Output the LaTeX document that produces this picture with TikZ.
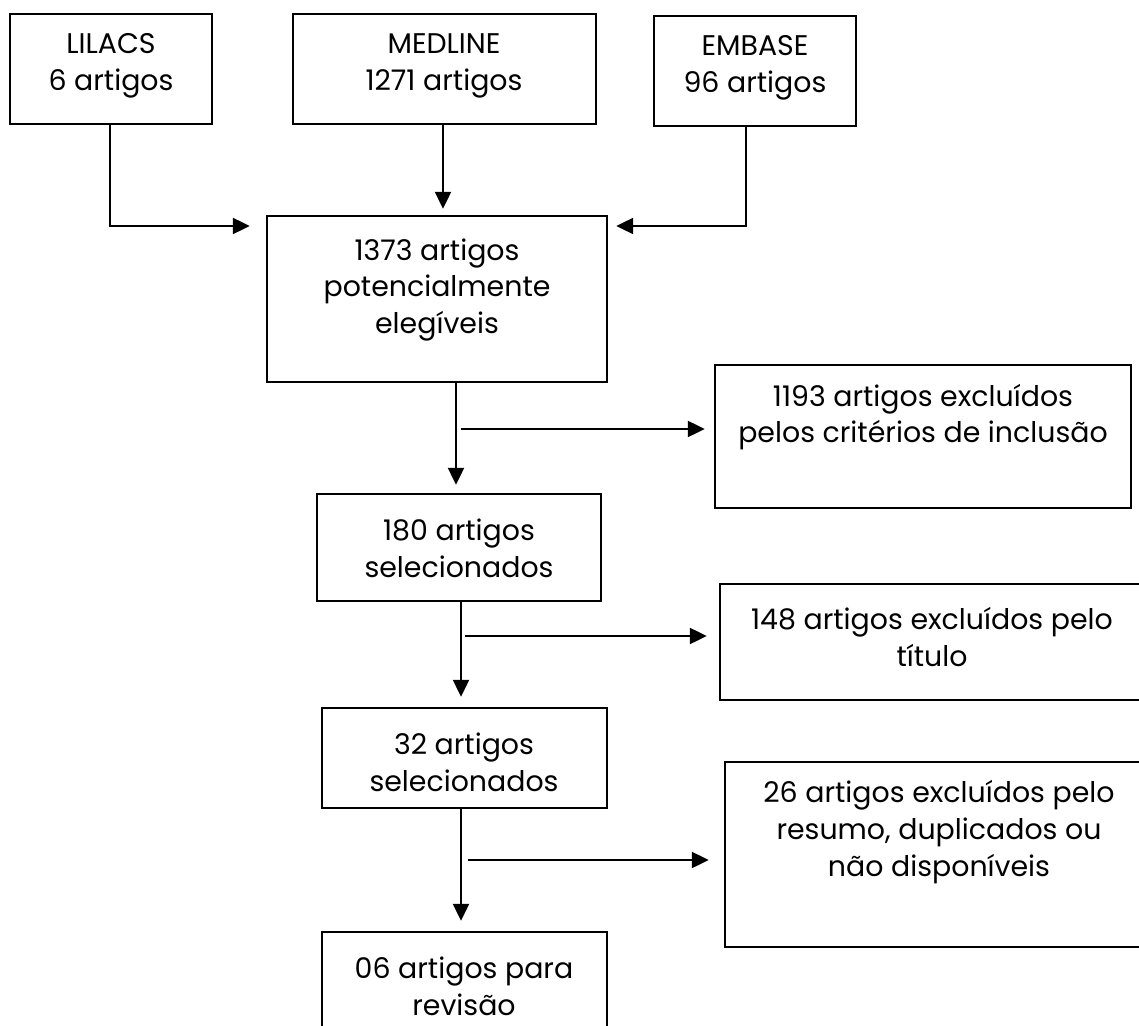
\documentclass[tikz,border=0pt]{standalone}
\usepackage{fontspec}
\setmainfont{Poppins}
\usetikzlibrary{arrows.meta,fit}
\begin{document}
\begin{tikzpicture}[x=0.5pt,y=-0.5pt,
  box/.style={draw,line width=1.2pt,inner sep=0pt},
  txt/.style={align=center,inner sep=0pt,font=\fontsize{14.2}{18.4}\selectfont},
  arr/.style={line width=1.1pt,-{Triangle[length=8.5pt,width=8pt]}}]
\clip (0,0) rectangle (1139,1026);
\fill[white] (0,0) rectangle (1139,1026);
% boxes
\node[box,fit={(10,14)(212,124)}] (lil) {};
\node[box,fit={(293,14)(596,124)}] (med) {};
\node[box,fit={(654,16)(856,126)}] (emb) {};
\node[box,fit={(267,216)(607,382)}] (main) {};
\node[box,fit={(715,365)(1131,508)}] (exc1) {};
\node[box,fit={(317,494)(601,601)}] (sel1) {};
\node[box,fit={(720,584)(1150,700)}] (exc2) {};
\node[box,fit={(322,708)(607,808)}] (sel2) {};
\node[box,fit={(725,762)(1155,947)}] (exc3) {};
\node[box,fit={(322,932)(607,1060)}] (fin) {};
% texts
\node[txt] (tlil) at (111,66) {LILACS\\6 artigos};
\node[txt] (tmed) at (444,66) {MEDLINE\\1271 artigos};
\node[txt] (temb) at (755,68) {EMBASE\\96 artigos};
\node[txt] (tmain) at (437,290) {1373 artigos\\potencialmente\\elegíveis};
\node[txt] (texc1) at (923,417) {1193 artigos excluídos\\pelos critérios de inclusão};
\node[txt] (tsel1) at (459,548) {180 artigos\\selecionados};
\node[txt] (texc2) at (932,637) {148 artigos excluídos pelo\\título};
\node[txt] (tsel2) at (464,762) {32 artigos\\selecionados};
\node[txt] (texc3) at (939,832) {26 artigos excluídos pelo\\resumo, duplicados ou\\não disponíveis};
\node[txt] (tfin) at (464,986) {06 artigos para\\revisão};
% helper coordinates
\coordinate (jL) at (0,226);
\coordinate (xL) at (110,0);
\coordinate (xM) at (443,0);
\coordinate (xE) at (746,0);
\coordinate (v1) at (456,0);
\coordinate (v2) at (461,0);
\coordinate (b1) at (461,429);
\coordinate (b2) at (465,636);
\coordinate (b3) at (468,860);
% connectors
\draw[arr,shorten >=8pt] (lil.south -| xL) |- (main.west |- jL);
\draw[arr,shorten >=3pt] (med.south -| xM) -- (main.north -| xM);
\draw[arr,shorten >=4pt] (emb.south -| xE) |- (main.east |- jL);
\draw[arr,shorten >=4pt] (main.south -| v1) -- (sel1.north -| v1);
\draw[arr,shorten >=4.5pt] (b1) -- (b1 -| exc1.west);
\draw[arr,shorten >=5pt] (sel1.south -| v2) -- (sel2.north -| v2);
\draw[arr,shorten >=6pt] (b2) -- (b2 -| exc2.west);
\draw[arr,shorten >=5pt] (sel2.south -| v2) -- (fin.north -| v2);
\draw[arr,shorten >=7.5pt] (b3) -- (b3 -| exc3.west);
\end{tikzpicture}
\end{document}
